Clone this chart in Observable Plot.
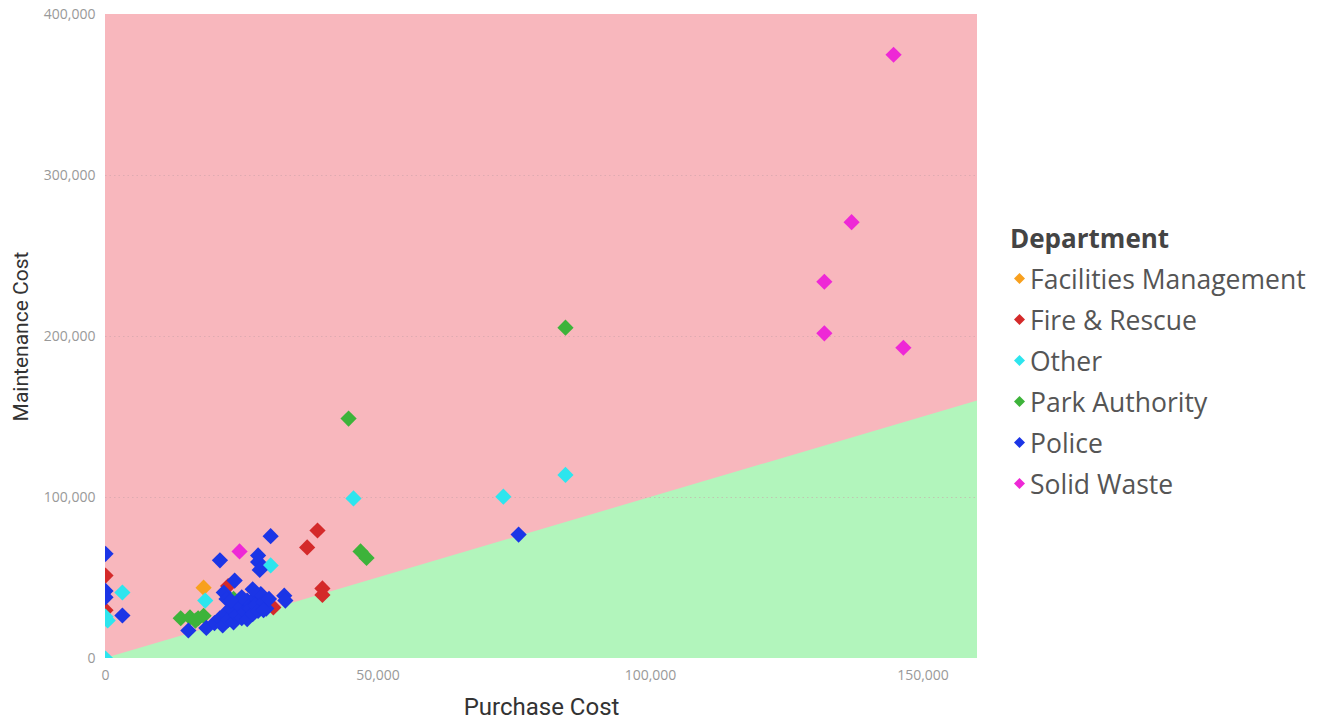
<!DOCTYPE html>
<html>
<head>
<meta charset="utf-8">
<script src="https://cdn.jsdelivr.net/npm/d3@7"></script>
<script src="https://cdn.jsdelivr.net/npm/@observablehq/plot@0.6"></script>
<style>
  html, body { margin: 0; padding: 0; background: #fff; }
  #wrap { position: relative; width: 1328px; height: 721px; overflow: hidden; }
  #chart { position: absolute; left: 0; top: 0; }
  #legend { position: absolute; left: 1010px; top: 220px; font-family: "Open Sans", sans-serif; color: #555; }
  #legend .title { font-weight: 700; font-size: 26px; color: #444; margin-bottom: 2px; }
  #legend .item { display: flex; align-items: center; height: 41px; font-size: 26.5px; }
  #legend .sw { width: 11px; height: 11px; margin: 0 5px 0 4px; }
  g[aria-label="x-axis label"] text { font-family: Roboto, sans-serif; font-size: 24px; fill: #333; }
  g[aria-label="y-axis label"] text { font-family: Roboto, sans-serif; font-size: 21px; fill: #333; }
</style>
</head>
<body>
<div id="wrap">
  <div id="chart"></div>
  <div id="legend"></div>
</div>
<script>
// ---- Data (Purchase Cost, Maintenance Cost) ----
const departments = ["Facilities Management", "Fire & Rescue", "Other", "Park Authority", "Police", "Solid Waste"];
const deptColors = ["#F8A01E", "#D42A2A", "#2DE5EE", "#3DB33A", "#1B35E6", "#EE28D6"];

const facilitiesManagement = [[18000, 44000]];
const fireRescue = [[0, 51500], [0, 30000], [38900, 79500], [37000, 69000], [39800, 43500], [39800, 39500], [30800, 31700], [22500, 45000]];
const other = [[84400, 114000], [73000, 100500], [45500, 99400], [3100, 41000], [400, 23600], [0, 0], [30300, 57800], [18300, 36000], [0, 26000]];
const parkAuthority = [[84400, 205500], [44600, 149000], [46800, 66500], [47900, 62500], [13800, 25000], [15500, 25500], [17000, 25000], [18000, 26500], [23500, 37000], [16500, 23500]];
const police = [[75800, 77000], [0, 65000], [0, 42000], [0, 38000], [3100, 26700], [30300, 76000], [21000, 61000], [28000, 64000], [28000, 60000], [28300, 55000], [23700, 48400], [21700, 41000], [22200, 37000], [32800, 39000], [33000, 36000], [15200, 17400], [18500, 19000],
  [20000, 22000], [21000, 25000], [21500, 20500], [22000, 28000], [22500, 24000], [23000, 31000], [23500, 22500], [24000, 27000], [24500, 33000], [25000, 25000], [25500, 29000], [26000, 36000], [26000, 24500], [26500, 31000], [27000, 27500], [27500, 38000], [27500, 33000], [28000, 29500], [28500, 40000], [29000, 35000], [29500, 31000], [25000, 38000], [23000, 36000], [27000, 43000], [30000, 37000], [29000, 30000]];
const solidWaste = [[144600, 375000], [136900, 271000], [131900, 234000], [131900, 202000], [146400, 193000], [24600, 66500]];

const seriesPoints = [facilitiesManagement, fireRescue, other, parkAuthority, police, solidWaste];

const xTicks = [0, 50000, 100000, 150000];
const yTicks = [0, 100000, 200000, 300000, 400000];
const xDomain = [0, 160000];
const yDomain = [0, 400000];
// break-even line: maintenance = purchase
const breakEven = [0, 160000];

const points = seriesPoints.flatMap((arr, i) => arr.map(([x, y]) => ({dept: departments[i], x, y})));
const fmt = d3.format(",");

const plot = Plot.plot({
  width: 990,
  height: 721,
  marginLeft: 105,
  marginRight: 13,
  marginTop: 14,
  marginBottom: 63,
  style: {fontFamily: "'Open Sans', sans-serif", fontSize: "14px", color: "#999", background: "transparent"},
  x: {domain: xDomain},
  y: {domain: yDomain},
  color: {domain: departments, range: deptColors},
  marks: [
    Plot.rect([0], {x1: xDomain[0], x2: xDomain[1], y1: yDomain[0], y2: yDomain[1], fill: "#F8B7BD"}),
    Plot.areaY(breakEven, {x: d => d, y1: 0, y2: d => d, fill: "#B2F5BC"}),
    Plot.ruleY(yTicks.slice(1, -1), {stroke: "#c9a3a8", strokeOpacity: 0.55, strokeDasharray: "1.5,3"}),
    Plot.dot(points, {x: "x", y: "y", fill: "dept", symbol: "diamond2", r: 7.3, stroke: "none", clip: true}),
    Plot.axisX({ticks: xTicks, tickFormat: fmt, tickSize: 0, tickPadding: 12, label: "Purchase Cost", labelAnchor: "center", labelArrow: "none", labelOffset: 56, fill: "#999"}),
    Plot.axisY({ticks: yTicks, tickFormat: fmt, tickSize: 0, tickPadding: 10, label: "Maintenance Cost", labelAnchor: "center", labelArrow: "none", labelOffset: 92, fill: "#999"})
  ]
});
document.getElementById("chart").appendChild(plot);

// legend
const legend = document.getElementById("legend");
const t = document.createElement("div");
t.className = "title";
t.textContent = "Department";
legend.appendChild(t);
departments.forEach((d, i) => {
  const item = document.createElement("div");
  item.className = "item";
  item.innerHTML = `<svg class="sw" viewBox="-5 -5 10 10"><path d="M0,-5L5,0L0,5L-5,0Z" fill="${deptColors[i]}"/></svg><span></span>`;
  item.querySelector("span").textContent = d;
  legend.appendChild(item);
});
</script>
</body>
</html>
